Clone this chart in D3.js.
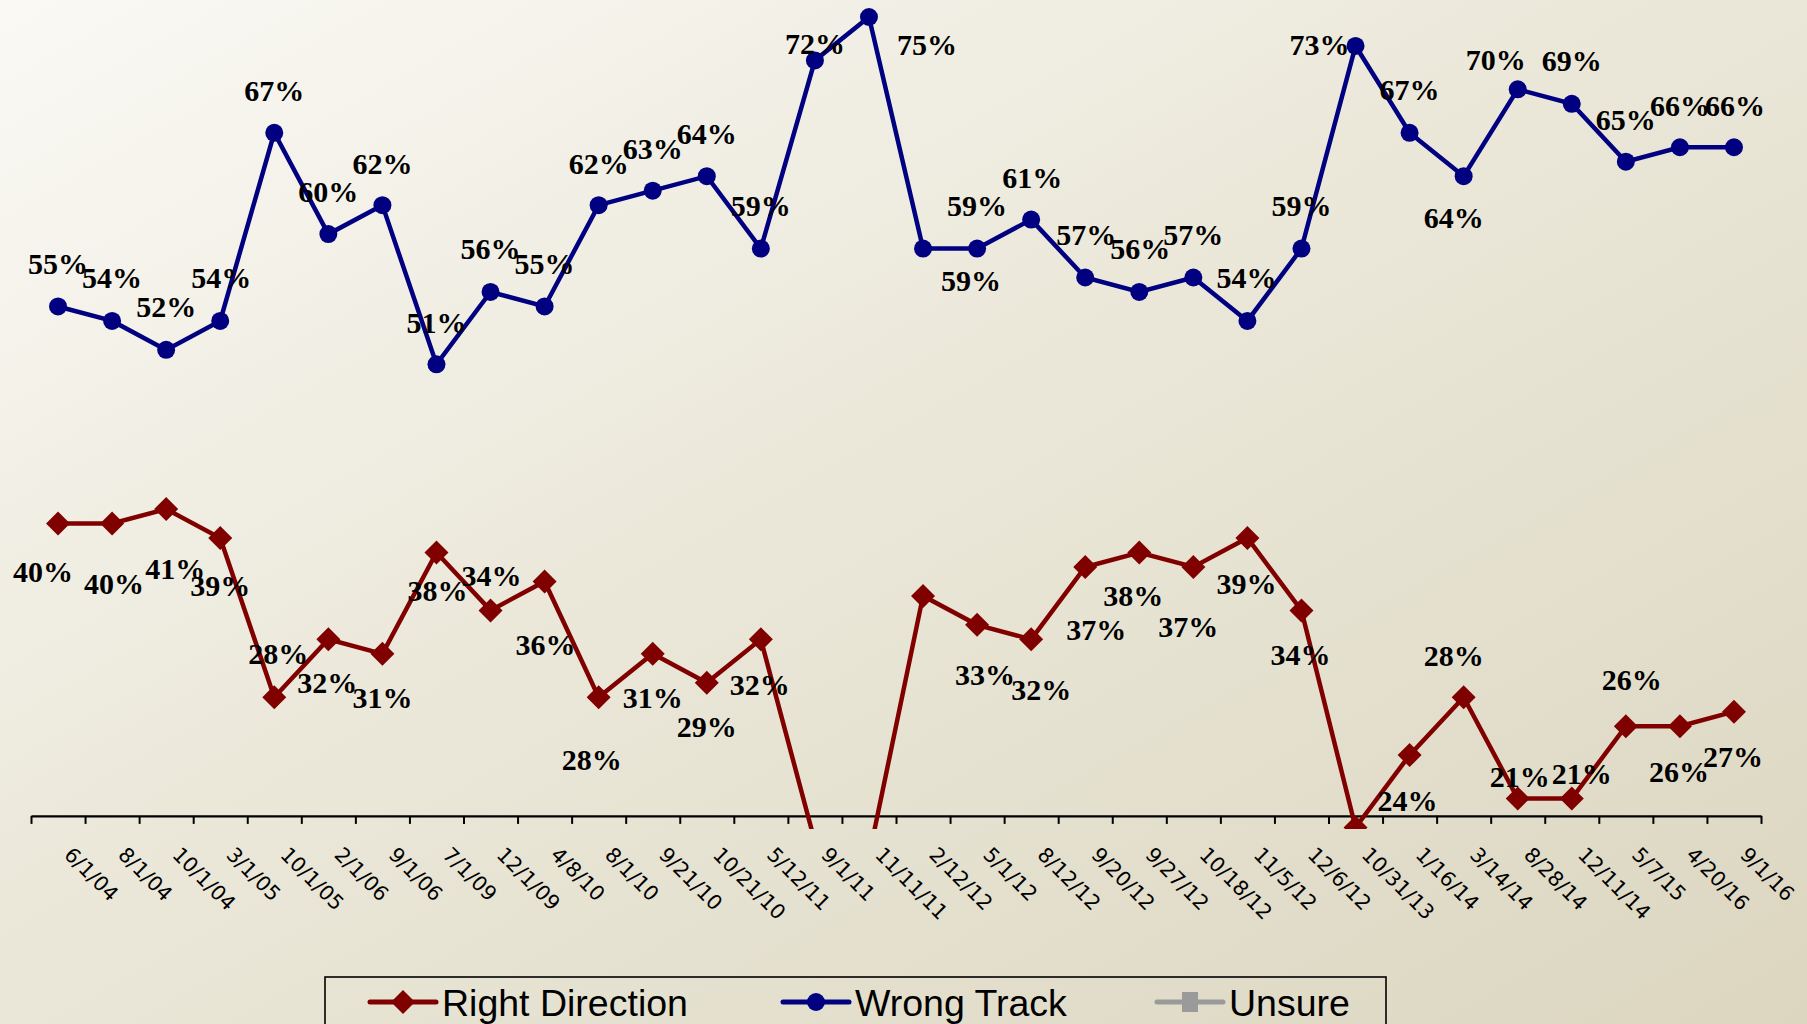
<!DOCTYPE html>
<html>
<head>
<meta charset="utf-8">
<script src="https://cdn.jsdelivr.net/npm/d3@7"></script>
<style>
  html, body { margin: 0; padding: 0; overflow: hidden; }
  svg { display: block; }
</style>
</head>
<body>
<svg id="chart" width="1807" height="1024"></svg>
<script>
// ---- data ----
const categories = ["6/1/04","8/1/04","10/1/04","3/1/05","10/1/05","2/1/06","9/1/06","7/1/09","12/1/09","4/8/10","8/1/10","9/21/10","10/21/10","5/12/11","9/1/11","11/11/11","2/12/12","5/1/12","8/12/12","9/20/12","9/27/12","10/18/12","11/5/12","12/6/12","10/31/13","1/16/14","3/14/14","8/28/14","12/11/14","5/7/15","4/20/16","9/1/16"];
const rightDirection = [40,40,41,39,28,32,31,38,34,36,28,31,29,32,18,17,35,33,32,37,38,37,39,34,19,24,28,21,21,26,26,27];
const wrongTrack = [55,54,52,54,67,60,62,51,56,55,62,63,64,59,72,75,59,59,61,57,56,57,54,59,73,67,64,70,69,65,66,66];
const unsure = [];
const seriesNames = ["Right Direction","Wrong Track","Unsure"];

// label placement (layout only, px offsets from the point)
const rightLabelOffsets = [[-15,48],[2,60],[9,59],[0,47],[4,-44],[-1,43],[0,44],[1,38],[1,-35],[1,63],[-7,62],[0,44],[0,44],[-1,45],null,null,null,[8,50],[10,50],[11,63],[-6,43],[-5,60],[-1,45],[-1,44],null,[-2,45],[-10,-42],[2,-22],[10,-25],[6,-47],[-1,45],[-1,45]];
const wrongLabelOffsets = [[0,-43],[0,-43],[0,-43],[1,-43],[0,-42],[0,-43],[0,-42],[0,-42],[0,-43],[0,-43],[0,-42],[0,-42],[0,-43],[0,-43],[0,-17],[58,27],[48,32],[0,-43],[1,-42],[1,-43],[1,-43],[0,-43],[-1,-43],[0,-43],[-36,-1],[0,-43],[-10,41],[-22,-30],[0,-43],[0,-42],[0,-42],[1,-42]];

// ---- setup ----
const W = 1807, H = 1024;
const svg = d3.select("#chart");
const RED = "#800000", BLUE = "#000080", GRAY = "#9a9a9a";

const defs = svg.append("defs");
const grad = defs.append("linearGradient").attr("id","bg").attr("x1","0").attr("y1","0").attr("x2","1").attr("y2","1");
grad.append("stop").attr("offset","0%").attr("stop-color","#faf9f4");
grad.append("stop").attr("offset","45%").attr("stop-color","#ebe8da");
grad.append("stop").attr("offset","100%").attr("stop-color","#dcd6c0");
svg.append("rect").attr("width",W).attr("height",H).attr("fill","url(#bg)");

const x = d3.scaleBand().domain(categories).range([31, 1761]).padding(0);
const y = d3.scaleLinear().domain([20, 75]).range([813, 17]);
const cx = d => x(d) + x.bandwidth()/2;
const axisY = y(19.8);

defs.append("clipPath").attr("id","plotclip")
  .append("rect").attr("x",0).attr("y",0).attr("width",W).attr("height",y(18.9));

// ---- axis ----
const tickScale = d3.scaleLinear().domain([0, categories.length]).range(x.range());
const axisG = svg.append("g").attr("transform",`translate(0,${axisY})`)
  .call(d3.axisBottom(tickScale).tickValues(d3.range(categories.length+1)).tickSize(8).tickSizeOuter(0).tickFormat(""));
axisG.select(".domain").attr("stroke","#000").attr("stroke-width",2.2);
axisG.selectAll(".tick line").attr("stroke","#000").attr("stroke-width",2);

svg.append("g").selectAll("text").data(categories).join("text")
  .attr("transform", d => `translate(${cx(d)+5},${axisY+40}) rotate(45)`)
  .attr("font-family","DejaVu Sans, sans-serif")
  .attr("font-size",20.5)
  .attr("fill","#000")
  .text(d => d);

// ---- series ----
const plot = svg.append("g").attr("clip-path","url(#plotclip)");
const line = d3.line().x((d,i) => cx(categories[i])).y(d => y(d));

plot.append("path").datum(rightDirection).attr("d",line)
  .attr("fill","none").attr("stroke",RED).attr("stroke-width",4.5).attr("stroke-linejoin","miter");
plot.append("path").datum(wrongTrack).attr("d",line)
  .attr("fill","none").attr("stroke",BLUE).attr("stroke-width",4.5).attr("stroke-linejoin","miter");

const diamondPath = (r) => `M0,${-r}L${r},0L0,${r}L${-r},0Z`;

plot.append("g").selectAll("path").data(rightDirection).join("path")
  .attr("transform",(d,i) => `translate(${cx(categories[i])},${y(d)})`)
  .attr("d", diamondPath(12))
  .attr("fill",RED);

plot.append("g").selectAll("circle").data(wrongTrack).join("circle")
  .attr("cx",(d,i) => cx(categories[i])).attr("cy",d => y(d)).attr("r",9)
  .attr("fill",BLUE);

// ---- data labels ----
function addLabels(values, offsets) {
  const items = values.map((v,i) => ({v, i, o: offsets[i]})).filter(d => d.o);
  svg.append("g").selectAll("text").data(items).join("text")
    .attr("x", d => cx(categories[d.i]) + d.o[0])
    .attr("y", d => y(d.v) + d.o[1])
    .attr("dy","0.35em")
    .attr("text-anchor","middle")
    .attr("font-family","Liberation Serif, Times New Roman, serif")
    .attr("font-weight","bold")
    .attr("font-size",30)
    .attr("fill","#000")
    .text(d => d.v + "%");
}
addLabels(rightDirection, rightLabelOffsets);
addLabels(wrongTrack, wrongLabelOffsets);

// ---- legend ----
const lg = svg.append("g");
lg.append("rect").attr("x",325).attr("y",977).attr("width",1061).attr("height",80)
  .attr("fill","none").attr("stroke","#000").attr("stroke-width",1.6);
const legendItems = [
  {name: seriesNames[0], color: RED, x0: 370, type: "diamond"},
  {name: seriesNames[1], color: BLUE, x0: 783, type: "circle"},
  {name: seriesNames[2], color: GRAY, x0: 1157, type: "square"}
];
const ly = 1002;
legendItems.forEach(it => {
  const g = lg.append("g");
  g.append("line").attr("x1",it.x0).attr("x2",it.x0+66).attr("y1",ly).attr("y2",ly)
    .attr("stroke",it.color).attr("stroke-width",5).attr("stroke-linecap","round");
  const mx = it.x0 + 33;
  if (it.type === "diamond") g.append("path").attr("transform",`translate(${mx},${ly})`).attr("d",diamondPath(12)).attr("fill",it.color);
  if (it.type === "circle") g.append("circle").attr("cx",mx).attr("cy",ly).attr("r",9).attr("fill",it.color);
  if (it.type === "square") g.append("rect").attr("x",mx-8).attr("y",ly-10).attr("width",16).attr("height",20).attr("fill",it.color);
  g.append("text").attr("x",it.x0+72).attr("y",1016)
    .attr("font-family","Liberation Sans, Arial, sans-serif").attr("font-size",37.5).attr("fill","#000")
    .text(it.name);
});
</script>
</body>
</html>
